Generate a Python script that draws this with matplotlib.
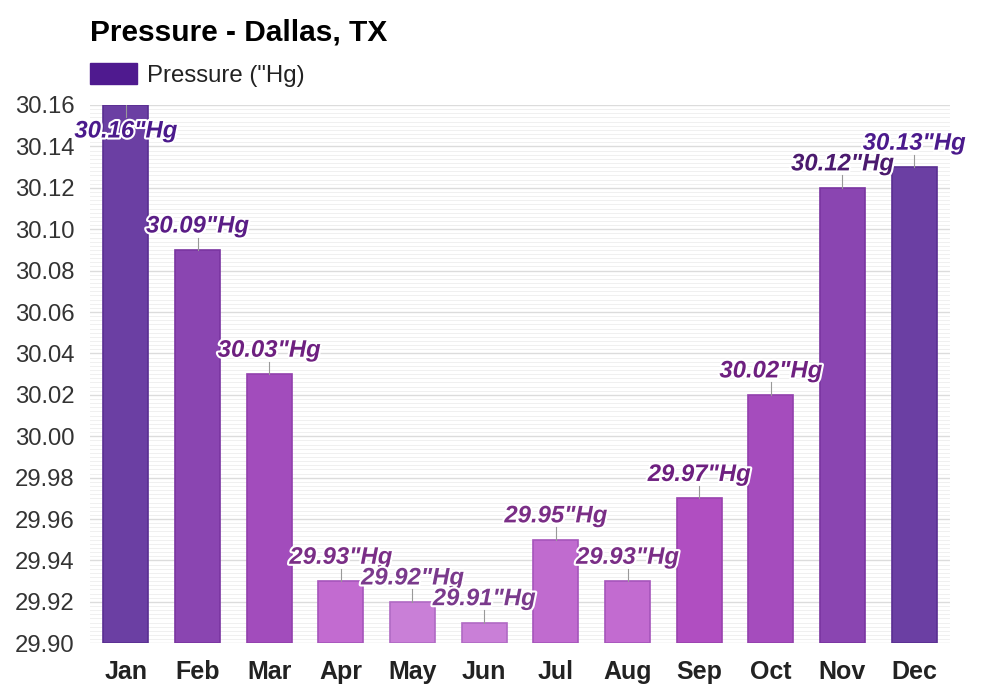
import matplotlib.pyplot as plt
import matplotlib.patheffects as pe
from matplotlib.ticker import MultipleLocator
from matplotlib.patches import Patch
import numpy as np

plt.rcParams['font.family'] = ['Liberation Sans', 'DejaVu Sans']

months = ['Jan', 'Feb', 'Mar', 'Apr', 'May', 'Jun', 'Jul', 'Aug', 'Sep', 'Oct', 'Nov', 'Dec']
pressure = [30.16, 30.09, 30.03, 29.93, 29.92, 29.91, 29.95, 29.93, 29.97, 30.02, 30.12, 30.13]
bar_colors = ['#6b3fa3', '#8a45b1', '#a24cbc', '#c26bd0', '#c97fd7', '#c97fd7',
              '#c06bcf', '#c26bd0', '#b04ec1', '#a54cbd', '#8a45b1', '#6b3fa3']
edge_colors = ['#5a2f92', '#7a35a1', '#9240ad', '#a655bb', '#b06ac4', '#b06ac4',
               '#a655bb', '#a655bb', '#9a42ae', '#9240ad', '#7a35a1', '#5a2f92']
label_colors = ['#4b1a8c', '#5a1d86', '#6e2080', '#7a2e86', '#7a3a8c', '#7a3a8c',
                '#7a2e86', '#7a2e86', '#6e2080', '#6e2080', '#4b1a6e', '#4b1a8c']

ymin, ymax = 29.90, 30.16

fig = plt.figure(figsize=(10, 7), dpi=100)
ax = fig.add_axes([0.09, 0.081, 0.86, 0.769])

x = np.arange(len(months))
ax.bar(x, np.array(pressure) - ymin, bottom=ymin, width=0.628,
       color=bar_colors, edgecolor=edge_colors, linewidth=1.2, zorder=3)

ax.set_xlim(-0.5, len(months) - 0.5)
ax.set_ylim(ymin, ymax)
ax.yaxis.set_major_locator(MultipleLocator(0.02))
ax.yaxis.set_minor_locator(MultipleLocator(0.002))
ax.grid(which='major', axis='y', color='#dcdcdc', linewidth=1, zorder=0)
ax.grid(which='minor', axis='y', color='#f0f0f0', linewidth=0.7, zorder=0)
ax.set_axisbelow(True)
ax.yaxis.set_major_formatter(plt.FuncFormatter(lambda v, p: f'{v:.2f}'))

ax.set_xticks(x)
ax.set_xticklabels(months, fontsize=18, fontweight='bold', color='#222222')
ax.tick_params(axis='y', labelsize=17.2, labelcolor='#333333', length=0, pad=11)
ax.tick_params(axis='y', which='minor', length=0)
ax.tick_params(axis='x', length=0, pad=12)
for s in ax.spines.values():
    s.set_visible(False)

# value labels with short leader lines
stroke = [pe.withStroke(linewidth=3, foreground='white')]
for i, v in enumerate(pressure):
    if v >= ymax - 0.005:
        ax.plot([i, i], [v, v - 0.006], color='#999999', lw=0.8, zorder=4)
        ax.annotate(f'{v:.2f}"Hg', (i, v - 0.007), ha='center', va='top', fontsize=17.2,
                    fontweight='bold', style='italic', color=label_colors[i], zorder=5,
                    path_effects=stroke)
    else:
        ax.plot([i, i], [v, v + 0.006], color='#999999', lw=0.8, zorder=4)
        ax.annotate(f'{v:.2f}"Hg', (i, v + 0.006), ha='center', va='bottom', fontsize=17.2,
                    fontweight='bold', style='italic', color=label_colors[i], zorder=5,
                    annotation_clip=False, path_effects=stroke)

fig.text(0.09, 0.953, 'Pressure - Dallas, TX', fontsize=21.5, fontweight='bold',
         color='#000000', va='center', ha='left')
fig.legend(handles=[Patch(facecolor='#4f1a8f', edgecolor='#4f1a8f', label='Pressure ("Hg)')],
           loc='center left', bbox_to_anchor=(0.09, 0.893), frameon=False,
           borderpad=0, borderaxespad=0,
           fontsize=17.3, handlelength=1.95, handleheight=1.0, handletextpad=0.42,
           labelcolor='#222222')

fig.savefig('out.png', dpi=100)
